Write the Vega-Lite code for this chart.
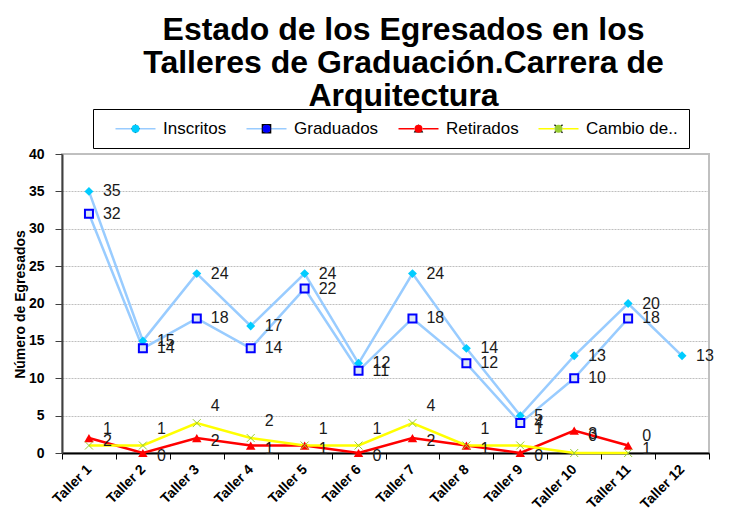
{
  "$schema": "https://vega.github.io/schema/vega-lite/v6.json",
  "width": 647,
  "height": 299,
  "autosize": {"type": "none"},
  "padding": {"left": 62, "top": 154, "right": 33, "bottom": 69},
  "background": "white",
  "title": {
    "text": ["Estado de los Egresados en los", "Talleres de Graduación.Carrera de", "Arquitectura"],
    "font": "Liberation Sans",
    "fontSize": 32,
    "fontWeight": "bold",
    "lineHeight": 33,
    "anchor": "middle",
    "frame": "group",
    "dx": 18,
    "offset": -4,
    "color": "black"
  },
  "config": {
    "font": "Liberation Sans",
    "view": {"stroke": "#c0c0c0", "strokeWidth": 2}
  },
  "data": {
    "values": [
      {"taller": "Taller 1", "serie": "Inscritos", "valor": 35},
      {"taller": "Taller 2", "serie": "Inscritos", "valor": 15},
      {"taller": "Taller 3", "serie": "Inscritos", "valor": 24},
      {"taller": "Taller 4", "serie": "Inscritos", "valor": 17},
      {"taller": "Taller 5", "serie": "Inscritos", "valor": 24},
      {"taller": "Taller 6", "serie": "Inscritos", "valor": 12},
      {"taller": "Taller 7", "serie": "Inscritos", "valor": 24},
      {"taller": "Taller 8", "serie": "Inscritos", "valor": 14},
      {"taller": "Taller 9", "serie": "Inscritos", "valor": 5},
      {"taller": "Taller 10", "serie": "Inscritos", "valor": 13},
      {"taller": "Taller 11", "serie": "Inscritos", "valor": 20},
      {"taller": "Taller 12", "serie": "Inscritos", "valor": 13},
      {"taller": "Taller 1", "serie": "Graduados", "valor": 32},
      {"taller": "Taller 2", "serie": "Graduados", "valor": 14},
      {"taller": "Taller 3", "serie": "Graduados", "valor": 18},
      {"taller": "Taller 4", "serie": "Graduados", "valor": 14},
      {"taller": "Taller 5", "serie": "Graduados", "valor": 22},
      {"taller": "Taller 6", "serie": "Graduados", "valor": 11},
      {"taller": "Taller 7", "serie": "Graduados", "valor": 18},
      {"taller": "Taller 8", "serie": "Graduados", "valor": 12},
      {"taller": "Taller 9", "serie": "Graduados", "valor": 4},
      {"taller": "Taller 10", "serie": "Graduados", "valor": 10},
      {"taller": "Taller 11", "serie": "Graduados", "valor": 18},
      {"taller": "Taller 1", "serie": "Retirados", "valor": 2},
      {"taller": "Taller 2", "serie": "Retirados", "valor": 0},
      {"taller": "Taller 3", "serie": "Retirados", "valor": 2},
      {"taller": "Taller 4", "serie": "Retirados", "valor": 1},
      {"taller": "Taller 5", "serie": "Retirados", "valor": 1},
      {"taller": "Taller 6", "serie": "Retirados", "valor": 0},
      {"taller": "Taller 7", "serie": "Retirados", "valor": 2},
      {"taller": "Taller 8", "serie": "Retirados", "valor": 1},
      {"taller": "Taller 9", "serie": "Retirados", "valor": 0},
      {"taller": "Taller 10", "serie": "Retirados", "valor": 3},
      {"taller": "Taller 11", "serie": "Retirados", "valor": 1},
      {"taller": "Taller 1", "serie": "Cambio de carrera", "valor": 1},
      {"taller": "Taller 2", "serie": "Cambio de carrera", "valor": 1},
      {"taller": "Taller 3", "serie": "Cambio de carrera", "valor": 4},
      {"taller": "Taller 4", "serie": "Cambio de carrera", "valor": 2},
      {"taller": "Taller 5", "serie": "Cambio de carrera", "valor": 1},
      {"taller": "Taller 6", "serie": "Cambio de carrera", "valor": 1},
      {"taller": "Taller 7", "serie": "Cambio de carrera", "valor": 4},
      {"taller": "Taller 8", "serie": "Cambio de carrera", "valor": 1},
      {"taller": "Taller 9", "serie": "Cambio de carrera", "valor": 1},
      {"taller": "Taller 10", "serie": "Cambio de carrera", "valor": 0},
      {"taller": "Taller 11", "serie": "Cambio de carrera", "valor": 0}
    ]
  },
  "encoding": {
    "x": {
      "field": "taller",
      "type": "nominal",
      "scale": {
        "type": "band",
        "domain": ["Taller 1", "Taller 2", "Taller 3", "Taller 4", "Taller 5", "Taller 6", "Taller 7", "Taller 8", "Taller 9", "Taller 10", "Taller 11", "Taller 12"],
        "paddingInner": 0,
        "paddingOuter": 0
      },
      "axis": {
        "title": null,
        "labelAngle": -45,
        "labelAlign": "right",
        "labelBaseline": "middle",
        "labelFont": "Liberation Sans",
        "labelFontWeight": "bold",
        "labelFontSize": 14,
        "labelColor": "black",
        "labelPadding": 8,
        "labelOverlap": false,
        "domainColor": "black",
        "domainWidth": 2,
        "tickColor": "black",
        "tickSize": 6,
        "tickWidth": 1,
        "tickBand": "extent",
        "grid": false
      }
    },
    "y": {
      "field": "valor",
      "type": "quantitative",
      "scale": {"domain": [0, 40], "nice": false},
      "axis": {
        "title": "Número de Egresados",
        "titleFont": "Liberation Sans",
        "titleFontSize": 14,
        "titleFontWeight": "bold",
        "titleColor": "black",
        "titleAngle": 270,
        "titleX": -42,
        "titleY": 150,
        "titleAlign": "center",
        "titleBaseline": "middle",
        "values": [0, 5, 10, 15, 20, 25, 30, 35, 40],
        "labelFont": "Liberation Sans",
        "labelFontSize": 14,
        "labelFontWeight": "bold",
        "labelColor": "black",
        "labelPadding": 11,
        "tickSize": 7,
        "tickColor": "#404040",
        "domainColor": "#404040",
        "domainWidth": 2,
        "grid": true,
        "gridColor": "#bfbfbf",
        "gridDash": [2, 1],
        "gridWidth": 1
      }
    }
  },
  "layer": [
    {
      "mark": {"type": "line", "strokeWidth": 2.5},
      "encoding": {
        "color": {
          "field": "serie",
          "type": "nominal",
          "scale": {
            "domain": ["Inscritos", "Graduados", "Retirados", "Cambio de carrera"],
            "range": ["#99ccff", "#99ccff", "#ff0000", "#ffff00"]
          },
          "legend": {
            "title": null,
            "orient": "none",
            "direction": "horizontal",
            "legendX": 31,
            "legendY": -45,
            "strokeColor": "black",
            "fillColor": "transparent",
            "padding": 11,
            "labelFont": "Liberation Sans",
            "labelFontSize": 17,
            "labelColor": "black",
            "symbolOffset": 23,
            "labelOffset": 19,
            "columnPadding": 8,
            "symbolSize": 64,
            "symbolStrokeWidth": 1.5,
            "labelExpr": "datum.label === 'Cambio de carrera' ? 'Cambio de..' : datum.label",
            "encode": {
              "symbols": {
                "update": {
                  "shape": {"value": "M-5,0H-1M1,0H5"},
                  "fill": {"value": "transparent"},
                  "stroke": {"signal": "datum.value === 'Retirados' ? '#ff0000' : datum.value === 'Cambio de carrera' ? '#ffff00' : '#99ccff'"},
                  "strokeWidth": {"value": 1.5},
                  "opacity": {"value": 1}
                }
              }
            }
          }
        }
      }
    },
    {
      "transform": [{"filter": "datum.serie === 'Inscritos'"}],
      "mark": {"type": "point", "shape": "diamond", "size": 80, "filled": true, "color": "#00ccff", "opacity": 1}
    },
    {
      "transform": [{"filter": "datum.serie === 'Graduados'"}],
      "mark": {"type": "point", "shape": "square", "size": 64, "filled": true, "fill": "#dce6f5", "stroke": "#0000ff", "strokeWidth": 2, "opacity": 1}
    },
    {
      "transform": [{"filter": "datum.serie === 'Retirados'"}],
      "mark": {"type": "point", "shape": "triangle-up", "size": 90, "filled": true, "color": "#ff0000", "opacity": 1}
    },
    {
      "transform": [{"filter": "datum.serie === 'Cambio de carrera'"}],
      "mark": {"type": "point", "shape": "M-1,-1L1,1M-1,1L1,-1", "size": 64, "filled": false, "stroke": "#99cc33", "strokeWidth": 1, "opacity": 1}
    },
    {
      "mark": {"type": "point", "size": 64, "filled": true, "opacity": 0},
      "encoding": {
        "fill": {
          "field": "serie",
          "type": "nominal",
          "sort": ["Inscritos", "Graduados", "Retirados", "Cambio de carrera"],
          "scale": {"range": ["#00ccff", "#0000ff", "#ff0000", "#99cc33"]},
          "legend": {
            "title": null,
            "orient": "none",
            "direction": "horizontal",
            "legendX": 31,
            "legendY": -45,
            "fillColor": "transparent",
            "strokeColor": "transparent",
            "padding": 11,
            "labelFont": "Liberation Sans",
            "labelFontSize": 17,
            "labelColor": "black",
            "labelOpacity": 0,
            "symbolOffset": 23,
            "labelOffset": 19,
            "columnPadding": 8,
            "symbolSize": 64,
            "symbolOpacity": 1,
            "labelExpr": "datum.label === 'Cambio de carrera' ? 'Cambio de..' : datum.label"
          }
        },
        "shape": {
          "field": "serie",
          "type": "nominal",
          "sort": ["Inscritos", "Graduados", "Retirados", "Cambio de carrera"],
          "scale": {
            "range": [
              "M-5.19,0M5.19,0M0,-1.1L1.1,0L0,1.1L-1.1,0Z",
              "M-5.19,0M5.19,0M-1.2,-1.2H1.2V-0.75H-1.2ZM-1.2,0.75H1.2V1.2H-1.2ZM-1.2,-0.75H-0.75V0.75H-1.2ZM0.75,-0.75H1.2V0.75H0.75Z",
              "M-5.19,0M5.19,0M0,-1.15L1.2,0.95L-1.2,0.95Z",
              "M-5.19,0M5.19,0M-0.89,-1.11L1.11,0.89L0.89,1.11L-1.11,-0.89ZM-1.11,0.89L0.89,-1.11L1.11,-0.89L-0.89,1.11Z"
            ]
          },
          "legend": {
            "title": null,
            "orient": "none",
            "direction": "horizontal",
            "legendX": 31,
            "legendY": -45,
            "fillColor": "transparent",
            "strokeColor": "transparent",
            "padding": 11,
            "labelFont": "Liberation Sans",
            "labelFontSize": 17,
            "labelColor": "black",
            "labelOpacity": 0,
            "symbolOffset": 23,
            "labelOffset": 19,
            "columnPadding": 8,
            "symbolSize": 64,
            "symbolOpacity": 1,
            "labelExpr": "datum.label === 'Cambio de carrera' ? 'Cambio de..' : datum.label"
          }
        }
      }
    },
    {
      "transform": [{"filter": "datum.serie === 'Inscritos' || datum.serie === 'Graduados'"}],
      "mark": {"type": "text", "align": "left", "baseline": "middle", "dx": 14, "fontSize": 16, "font": "Liberation Sans", "color": "#1a1a1a"},
      "encoding": {"text": {"field": "valor", "type": "quantitative"}}
    },
    {
      "transform": [{"filter": "datum.serie === 'Retirados'"}],
      "mark": {"type": "text", "align": "left", "baseline": "middle", "dx": 14, "dy": 3, "fontSize": 16, "font": "Liberation Sans", "color": "#1a1a1a"},
      "encoding": {"text": {"field": "valor", "type": "quantitative"}}
    },
    {
      "transform": [{"filter": "datum.serie === 'Cambio de carrera'"}],
      "mark": {"type": "text", "align": "left", "baseline": "middle", "dx": 14, "dy": -17, "fontSize": 16, "font": "Liberation Sans", "color": "#1a1a1a"},
      "encoding": {"text": {"field": "valor", "type": "quantitative"}}
    }
  ]
}
